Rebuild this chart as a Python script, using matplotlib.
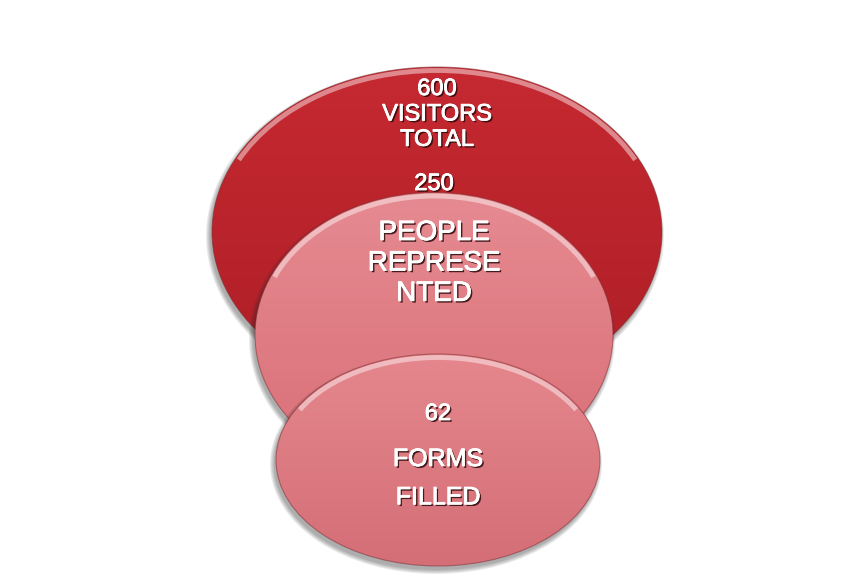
import numpy as np
import matplotlib
matplotlib.use('Agg')
import matplotlib.pyplot as plt
import matplotlib.patheffects as pe
from matplotlib.patches import Ellipse, Arc
from matplotlib.colors import to_rgb

# Funnel figures
values = [600, 250, 62]
captions = ['VISITORS\nTOTAL', 'PEOPLE\nREPRESE\nNTED', 'FORMS\nFILLED']

# Ellipse layout in pixel space: centre x, centre y, width, height
centres = [(437, 232), (434, 335), (438, 460)]
sizes = [(450, 330), (358, 285), (324, 212)]
top_colors = ['#C62931', '#E68A91', '#E5878D']
bottom_colors = ['#AE1E26', '#D96F77', '#D46E77']

fig = plt.figure(figsize=(8.56, 5.8), dpi=100)
ax = fig.add_axes([0, 0, 1, 1])
ax.set_xlim(0, 856)
ax.set_ylim(580, 0)
ax.axis('off')


def draw_ellipse(cx, cy, w, h, c_top, c_bot, z):
    # soft drop shadow
    for i in range(5):
        sh = Ellipse((cx - 2, cy + 4), w + 2 * i, h + 2 * i,
                     color='#2a2a2a', alpha=0.09, lw=0, zorder=z)
        ax.add_patch(sh)
    body = Ellipse((cx, cy), w, h, facecolor='none', lw=0, zorder=z + 0.1)
    ax.add_patch(body)
    # vertical gradient clipped to the ellipse
    t = np.linspace(0, 1, 256)[:, None, None]
    grad = (1 - t) * np.array(to_rgb(c_top)) + t * np.array(to_rgb(c_bot))
    grad = np.repeat(grad, 2, axis=1)
    im = ax.imshow(grad, extent=(cx - w / 2, cx + w / 2, cy + h / 2, cy - h / 2),
                   aspect='auto', zorder=z + 0.2, interpolation='bilinear')
    im.set_clip_path(body)
    # glossy rim along the top
    rim = Arc((cx, cy), w - 7, h - 7, theta1=200, theta2=340,
              color='white', alpha=0.45, lw=3.5, zorder=z + 0.3)
    ax.add_patch(rim)
    edge = Ellipse((cx, cy), w, h, facecolor='none', edgecolor='#7a2a2e',
                   lw=0.8, alpha=0.5, zorder=z + 0.3)
    ax.add_patch(edge)


for i in range(3):
    cx, cy = centres[i]
    w, h = sizes[i]
    draw_ellipse(cx, cy, w, h, top_colors[i], bottom_colors[i], i * 2)

shadow = [pe.withSimplePatchShadow(offset=(1.3, -1.3), shadow_rgbFace='#2a0a0a', alpha=0.85),
          pe.Stroke(linewidth=0.6, foreground='white'),
          pe.Normal()]
font = dict(family='Liberation Sans', color='white', ha='center',
            va='top', path_effects=shadow, zorder=10)

ax.text(437, 78, str(values[0]) + '\n' + captions[0], fontsize=17,
        linespacing=1.2, **font)
ax.text(434, 173, str(values[1]), fontsize=17, **font)
ax.text(434, 220, captions[1], fontsize=20, linespacing=1.22, **font)
ax.text(438, 403, str(values[2]), fontsize=17, **font)
ax.text(438, 447, captions[2], fontsize=18, linespacing=1.75, **font)

fig.savefig('out.png', dpi=100)
